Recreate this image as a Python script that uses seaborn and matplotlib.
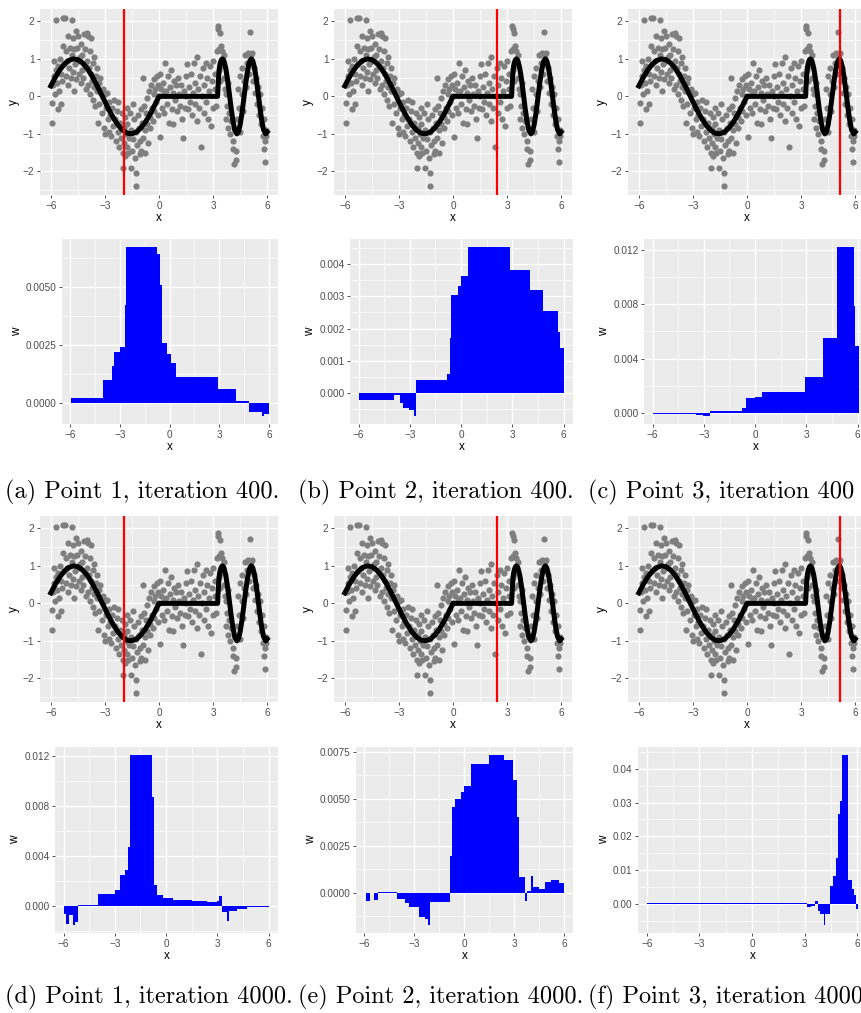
import numpy as np
import matplotlib
matplotlib.use("Agg")
import matplotlib.pyplot as plt
from matplotlib.ticker import FixedLocator, FixedFormatter
import seaborn as sns

# ---------------- data ----------------
pts_x = [-5.95,-5.92,-5.90,-5.85,-5.80,-5.75,-5.72,-5.70,-5.65,-5.60,-5.58,-5.55,-5.50,-5.45,-5.42,-5.38,-5.33,-5.30,-5.25,-5.20,-5.18,-5.15,-5.10,-5.05,-5.02,
         -4.98,-4.95,-4.90,-4.85,-4.82,-4.78,-4.75,-4.72,-4.70,-4.65,-4.60,-4.58,-4.55,-4.50,-4.48,-4.45,-4.40,-4.35,-4.30,-4.28,-4.25,-4.20,-4.15,-4.12,-4.08,-4.05,-4.02,
         -3.98,-3.95,-3.92,-3.88,-3.85,-3.80,-3.78,-3.75,-3.70,-3.68,-3.65,-3.60,-3.58,-3.55,-3.50,-3.45,-3.42,-3.38,-3.35,-3.30,-3.25,-3.20,-3.15,-3.10,-3.05,-3.02,
         -2.98,-2.95,-2.90,-2.85,-2.80,-2.75,-2.70,-2.65,-2.60,-2.55,-2.50,-2.45,-2.40,-2.35,-2.30,-2.25,-2.20,-2.15,-2.10,-2.05,-2.02,
         -1.98,-1.95,-1.92,-1.90,-1.88,-1.85,-1.80,-1.78,-1.75,-1.70,-1.65,-1.62,-1.58,-1.55,-1.50,-1.45,-1.42,-1.38,-1.35,-1.30,-1.28,-1.25,-1.20,-1.15,-1.12,-1.08,-1.05,-1.02,
         -0.98,-0.95,-0.90,-0.88,-0.85,-0.80,-0.75,-0.72,-0.68,-0.65,-0.60,-0.55,-0.52,-0.48,-0.45,-0.40,-0.35,-0.30,-0.28,-0.25,-0.20,-0.15,-0.12,-0.08,-0.05,-0.02,
         0.05,0.08,0.10,0.15,0.20,0.25,0.30,0.35,0.40,0.45,0.50,0.55,0.60,0.65,0.70,0.75,0.80,0.85,0.90,0.95,
         1.02,1.08,1.12,1.18,1.22,1.28,1.32,1.38,1.42,1.48,1.52,1.58,1.62,1.68,1.72,1.78,1.82,1.88,1.92,1.98,
         2.02,2.08,2.12,2.18,2.22,2.28,2.32,2.38,2.42,2.48,2.52,2.58,2.62,2.68,2.72,2.78,2.82,2.88,2.92,2.98,
         3.02,3.08,3.12,3.18,3.22,3.25,3.30,3.32,3.35,3.38,3.40,3.45,3.48,3.52,3.55,3.58,3.62,3.65,3.70,3.72,3.78,3.82,3.85,3.90,3.95,
         4.02,4.08,4.12,4.15,4.20,4.25,4.28,4.32,4.38,4.42,4.48,4.52,4.58,4.62,4.68,4.72,4.78,4.82,4.88,4.92,4.98,5.02,
         5.05,5.08,5.12,5.18,5.22,5.28,5.32,5.38,5.45,5.50,5.55,5.60,5.65,5.70,5.75,5.80,5.85,5.88,5.90,5.92,5.95]
pts_y = [-0.70,-0.17,0.30,0.95,0.55,0.05,0.70,2.04,0.35,-0.35,0.80,0.15,1.00,0.60,-0.20,0.40,2.10,1.35,0.85,2.08,0.55,1.20,0.95,0.30,1.60,
         0.75,1.30,0.50,2.03,1.10,0.65,1.55,0.15,1.25,0.85,1.75,0.45,1.30,0.95,1.60,0.60,1.05,0.35,1.40,0.70,1.10,0.50,1.65,0.85,1.25,0.20,1.70,
         0.95,1.60,0.30,0.75,1.20,0.05,0.60,1.55,0.40,-0.10,0.90,0.25,1.05,-0.25,0.55,0.15,0.75,-0.70,0.35,-0.20,0.50,0.10,-0.45,0.20,-0.85,0.05,
         -1.00,-0.30,0.10,-0.60,-0.95,-0.15,-0.50,-1.05,-0.30,-0.80,-0.10,-0.60,-1.20,-0.40,-0.95,-0.15,-1.35,-0.70,-1.10,-0.45,-1.50,
         -1.90,-0.85,-1.25,-0.55,-1.60,-1.00,-0.30,-1.35,-0.75,-1.50,-1.10,-0.45,-1.90,-0.90,-1.45,-0.20,-1.15,-0.60,-1.65,-2.40,-0.95,-2.05,-1.30,-0.50,-0.85,-1.55,-1.20,-0.35,
         -1.45,-0.70,0.50,-1.10,-0.25,-0.90,-1.50,-0.45,-0.05,-0.75,-1.25,0.15,-0.55,-0.85,0.30,-0.30,-0.65,0.45,0.05,-0.40,0.20,-0.15,0.55,-0.50,0.30,0.00,
         0.60,-1.08,0.20,-0.30,0.35,0.05,-0.45,0.90,0.15,-0.20,0.55,-0.70,0.25,0.70,-0.35,0.10,-0.75,0.40,-0.10,0.30,
         -0.40,0.50,0.05,-0.25,0.30,-0.60,-1.12,0.15,-0.30,0.55,0.00,0.85,-0.35,0.25,-0.15,0.60,-0.50,0.10,0.90,-0.20,
         0.35,-0.65,1.05,0.20,-0.30,0.55,-1.35,0.00,0.75,-0.45,0.30,0.90,-0.15,0.50,-0.60,0.15,0.80,-0.80,0.40,0.95,
         -0.30,0.60,0.20,-0.25,1.20,1.88,1.80,0.70,1.25,0.40,1.70,1.35,1.00,1.20,0.80,0.50,1.10,0.20,-0.60,0.05,-0.25,-0.85,0.35,-0.45,-1.00,
         -0.65,-1.20,-1.40,-1.80,-0.90,-1.45,-1.70,-0.60,0.20,-0.30,0.55,-0.95,0.05,0.75,-0.40,0.40,1.10,0.25,0.90,1.15,0.60,1.00,
         1.72,1.10,0.85,1.15,0.40,0.75,0.10,0.50,-0.20,0.25,-0.50,0.05,-0.75,-0.30,-1.05,-0.60,-1.40,-1.20,-1.75,-0.90,-1.05]

curve_x = [-6.0,-5.75,-5.5,-5.25,-5.0,-4.75,-4.5,-4.25,-4.0,-3.75,-3.5,-3.25,-3.0,-2.75,-2.5,-2.25,-2.0,-1.75,-1.5,-1.25,-1.0,-0.75,-0.5,-0.25,0.0,
           1.0,2.0,3.25,3.28,3.32,3.36,3.40,3.45,3.52,3.60,3.70,3.80,3.90,4.00,4.10,4.20,4.32,4.40,4.50,4.60,4.70,4.80,4.90,5.00,5.12,5.20,5.30,5.40,5.50,5.60,5.70,5.80,5.92,6.00]
curve_y = [0.279,0.508,0.706,0.859,0.959,0.999,0.978,0.895,0.757,0.572,0.351,0.108,-0.141,-0.382,-0.598,-0.778,-0.909,-0.984,-0.997,-0.949,-0.841,-0.682,-0.479,-0.247,0.0,
           0.0,0.0,0.0,0.30,0.62,0.80,0.891,0.962,1.0,0.951,0.760,0.454,0.078,-0.309,-0.649,-0.891,-1.0,-0.951,-0.760,-0.454,-0.078,0.309,0.649,0.891,1.0,0.951,0.760,0.454,0.078,-0.309,-0.649,-0.891,-1.0,-0.951]

point_x = [-1.95, 2.42, 5.15]   # points 1, 2, 3

# weight step profiles (segment edges and heights)
wa_edges = [-5.96,-4.05,-3.49,-3.35,-3.01,-2.71,-2.65,-0.74,-0.58,-0.48,-0.14,0.06,0.40,2.91,4.03,4.78,5.58,5.68,6.0]
wa_h = [0.0002,0.0010,0.00157,0.00218,0.00242,0.0042,0.0067,0.0064,0.0051,0.0026,0.0021,0.0017,0.0011,0.00061,0.00007,-0.00041,-0.00055,-0.00048]
wb_edges = [-5.96,-3.95,-3.56,-3.42,-3.07,-2.74,-2.64,-0.83,-0.67,-0.58,-0.19,0.0,0.38,2.88,4.01,4.79,5.67,5.80,6.0]
wb_h = [-0.0002,-0.00006,-0.0003,-0.00046,-0.00053,-0.00069,0.00041,0.0006,0.0017,0.00304,0.00333,0.00363,0.00451,0.0038,0.00318,0.00254,0.00188,0.0014]
wc_edges = [-5.96,-3.44,-3.05,-2.66,-0.79,-0.55,0.0,0.39,2.91,3.99,4.82,5.76,5.86,6.06]
wc_h = [-0.0001,-0.0002,-0.00022,0.00015,0.00032,0.00106,0.00118,0.0015,0.00266,0.00553,0.01222,0.00787,0.00494]
wd_edges = [-5.96,-5.86,-5.67,-5.42,-5.32,-5.16,-4.01,-2.98,-2.69,-2.40,-2.20,-2.10,-0.84,-0.70,-0.55,-0.16,0.39,1.50,2.38,2.96,3.12,3.25,3.58,3.70,4.13,4.71,6.0]
wd_h = [-0.00064,-0.00145,-0.0007,-0.0015,-0.0013,0.0001,0.00094,0.00126,0.00244,0.0029,0.0047,0.01203,0.00868,0.00166,0.00086,0.00064,0.00046,0.00035,0.00027,0.00038,0.00075,-0.00048,-0.00118,-0.00043,-0.00024,-0.0001]
we_edges = [-5.92,-5.68,-5.44,-5.18,-4.03,-3.53,-3.33,-2.73,-2.33,-2.19,-2.07,-0.82,-0.72,-0.56,-0.18,-0.02,0.42,1.49,2.43,2.95,3.19,3.31,3.65,3.79,4.03,4.13,4.50,4.86,5.20,5.72,6.0]
we_h = [-0.00044,-0.00002,-0.00041,0.00002,-0.00032,-0.00053,-0.00075,-0.00128,-0.00137,-0.00169,-0.00048,0.00195,0.00453,0.005,0.00533,0.00569,0.00684,0.00729,0.00706,0.00599,0.004,0.00084,-0.00044,0.0001,0.00087,0.0003,0.00018,0.00059,0.00066,0.00053]
wf_edges = [-5.96,3.13,3.38,3.61,3.74,3.89,4.08,4.18,4.43,4.60,4.81,4.89,4.99,5.10,5.49,5.72,5.81,5.90,6.04]
wf_h = [0.00005,-0.0009,-0.0008,0.0008,-0.0022,-0.003,-0.0062,-0.0032,0.0053,0.0083,0.0135,0.0266,0.0304,0.044,0.0070,0.0044,0.0025,-0.0017]

w_ticks = {
    "a": ([0.0, 0.0025, 0.005], ["0.0000", "0.0025", "0.0050"]),
    "b": ([0.0, 0.001, 0.002, 0.003, 0.004], ["0.000", "0.001", "0.002", "0.003", "0.004"]),
    "c": ([0.0, 0.004, 0.008, 0.012], ["0.000", "0.004", "0.008", "0.012"]),
    "d": ([0.0, 0.004, 0.008, 0.012], ["0.000", "0.004", "0.008", "0.012"]),
    "e": ([0.0, 0.0025, 0.005, 0.0075], ["0.0000", "0.0025", "0.0050", "0.0075"]),
    "f": ([0.0, 0.01, 0.02, 0.03, 0.04], ["0.00", "0.01", "0.02", "0.03", "0.04"]),
}
x_ticks = [-6, -3, 0, 3, 6]
x_labels = ["\u22126", "\u22123", "0", "3", "6"]
y_ticks = [-2, -1, 0, 1, 2]
y_labels = ["\u22122", "\u22121", "0", "1", "2"]

captions = ["(a) Point 1, iteration 400.", "(b) Point 2, iteration 400.", "(c) Point 3, iteration 400",
            "(d) Point 1, iteration 4000.", "(e) Point 2, iteration 4000.", "(f) Point 3, iteration 4000"]

# ---------------- layout ----------------
W, H = 862, 1013
fig = plt.figure(figsize=(W / 100, H / 100), dpi=100)
fig.patch.set_facecolor("white")
plt.rcParams["font.family"] = ["Liberation Sans", "DejaVu Sans"]


def add_ax(l, t, r, b):
    return fig.add_axes([l / W, 1 - b / H, (r - l) / W, (b - t) / H])


def gg(ax, yt, yl, yminor):
    ax.set_facecolor("#EBEBEB")
    for s in ax.spines.values():
        s.set_visible(False)
    ax.xaxis.set_major_locator(FixedLocator(x_ticks))
    ax.xaxis.set_major_formatter(FixedFormatter(x_labels))
    ax.xaxis.set_minor_locator(FixedLocator([-4.5, -1.5, 1.5, 4.5]))
    ax.yaxis.set_major_locator(FixedLocator(yt))
    ax.yaxis.set_major_formatter(FixedFormatter(yl))
    ax.yaxis.set_minor_locator(FixedLocator(yminor))
    ax.grid(which="major", color="white", lw=1.0)
    ax.grid(which="minor", color="white", lw=0.5)
    ax.set_axisbelow(True)
    ax.tick_params(which="major", length=2.5, width=0.6, color="#333333",
                   labelsize=7.2, labelcolor="#4D4D4D", pad=1.5)
    ax.tick_params(which="minor", length=0)
    ax.set_xlabel("x", fontsize=8.5, labelpad=1)


sc_cols = [(40, 278), (334, 572), (628, 866)]
sc_rows = [(9, 195), (516, 702)]
w_boxes = {
    "a": (62, 239, 278, 424), "b": (350, 239, 573, 424), "c": (644, 239, 867, 424),
    "d": (55, 747, 278, 933), "e": (356, 747, 573, 933), "f": (638, 747, 867, 933),
}
w_data = {"a": (wa_edges, wa_h), "b": (wb_edges, wb_h), "c": (wc_edges, wc_h),
          "d": (wd_edges, wd_h), "e": (we_edges, we_h), "f": (wf_edges, wf_h)}
keys = ["a", "b", "c", "d", "e", "f"]

for i, k in enumerate(keys):
    row, col = divmod(i, 3)
    # scatter panel
    ax = add_ax(sc_cols[col][0], sc_rows[row][0], sc_cols[col][1], sc_rows[row][1])
    sns.scatterplot(x=pts_x, y=pts_y, color="#7F7F7F", s=20, linewidth=0, ax=ax, zorder=2)
    sns.lineplot(x=curve_x, y=curve_y, color="black", lw=3.6, ax=ax, zorder=3)
    ax.axvline(point_x[col], color="red", lw=1.6, zorder=4)
    ax.set_xlim(-6.6, 6.6)
    ax.set_ylim(-2.63, 2.33)
    gg(ax, y_ticks, y_labels, [-2.5, -1.5, -0.5, 0.5, 1.5])
    ax.set_ylabel("y", fontsize=8.5, labelpad=2)

    # weight panel
    l, t, r, b = w_boxes[k]
    ax2 = add_ax(l, t, r, b)
    edges, hts = w_data[k]
    edges = np.array(edges)
    hts = np.array(hts)
    ax2.bar(edges[:-1], hts, width=np.diff(edges), align="edge", color="#0000FF",
            linewidth=0, zorder=2)
    lo, hi = min(hts.min(), 0), max(hts.max(), 0)
    pad = 0.05 * (hi - lo)
    ax2.set_xlim(-6.5, 6.55)
    yt, yl = w_ticks[k]
    step = yt[1] - yt[0]
    minor = [v - step / 2 for v in yt] + [yt[-1] + step / 2]
    gg(ax2, yt, yl, minor)
    ax2.set_ylim(lo - pad, hi + pad)
    ax2.set_ylabel("w", fontsize=8.5, labelpad=2)

# captions
cap_x = [5, 298, 588]
cap_y = [492, 997]
for i, c in enumerate(captions):
    row, col = divmod(i, 3)
    fig.text(cap_x[col] / W, 1 - cap_y[row] / H, c, fontfamily="cmr10", fontsize=17.5,
             ha="left", va="center", color="black")

fig.savefig("out.png", dpi=100)
